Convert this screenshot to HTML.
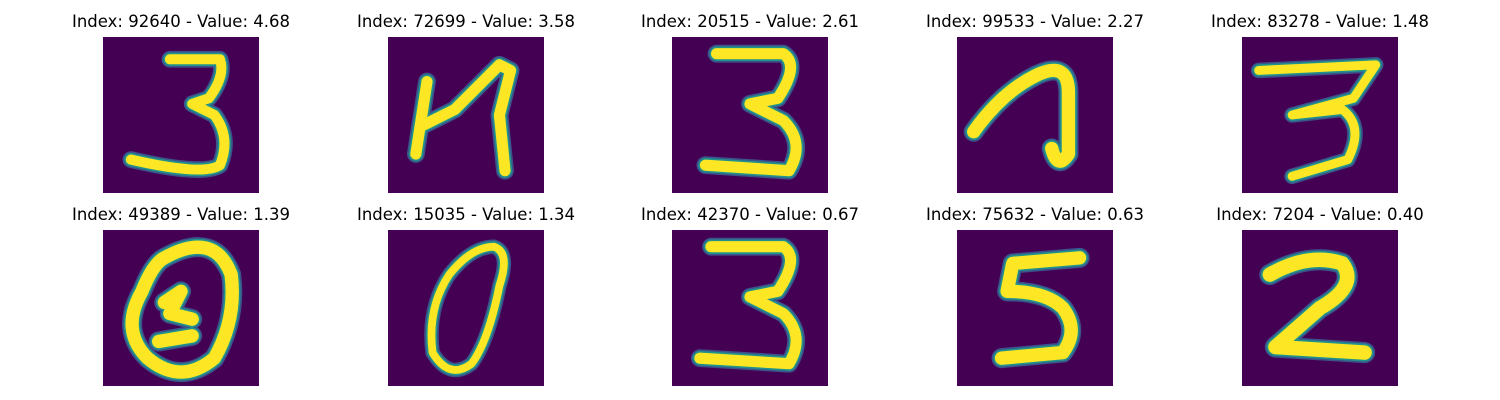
<!DOCTYPE html>
<html><head><meta charset="utf-8">
<style>
body{margin:0;background:#fff;width:1500px;height:400px;overflow:hidden;font-family:"DejaVu Sans","Liberation Sans",sans-serif}
.t{position:absolute;font-size:16.5px;color:#000;text-align:center;width:300px;white-space:nowrap}
svg.im{position:absolute;width:156px;height:156px}
</style></head><body>
<div id="root"></div>
<script>
const indices=[92640,72699,20515,99533,83278,49389,15035,42370,75632,7204];
const values=[4.68,3.58,2.61,2.27,1.48,1.39,1.34,0.67,0.63,0.40];
const digitPaths=[
"M12,4 L21,4 Q22,7 19,11 L16,12 L20,14 Q23,18 21,23 Q18,25 5,22",
"M5,21 L7,8 M6,16 L12,13 L20,5 L22,6 L20,14 L21,24",
"M8,3 L20,3 Q23,5 19,11 L14,12 L20,15 Q24,19 21,24 L6,23",
"M3,17 Q8,10 14,7 Q20,4 20,10 L20,21 Q18,24 17,20",
"M3,6 L24,5 L20,11 L9,14 L18,13 Q22,16 19,22 L9,25",
"M11,5 Q20,0 23,8 Q24,16 20,23 Q14,28 8,23 Q3,18 7,11 Q9,6 11,5 M11,13 L14,11 L12,15 L16,16 M10,20 L16,19",
"M19,3 Q22,4 20,10 Q18,20 15,24 Q11,27 8,22 Q7,14 11,8 Q15,3 19,3",
"M7,3 L20,3 Q23,5 19,11 L14,12 L20,15 Q24,19 21,24 L5,23",
"M22,5 L10,6 L9,11 Q16,11 19,14 Q22,18 19,22 L8,23",
"M5,8 Q12,4 18,6 Q21,10 14,14 L6,21 L22,22"
];
const widths=[1.8,2.0,2.0,2.4,1.6,2.4,1.4,2.0,2.4,2.6];
const colX=[103,388,672,957,1242], rowY=[37,230];
const root=document.getElementById('root');
const ns='http://www.w3.org/2000/svg';
for(let i=0;i<indices.length;i++){
  const c=i%5,r=Math.floor(i/5);
  const t=document.createElement('div');
  t.className='t';
  
  
  t.style.left=(colX[c]+78-150)+'px';
  t.style.top=(rowY[r]-25)+'px';
  t.textContent='Index: '+indices[i]+' - Value: '+values[i].toFixed(2);
  root.appendChild(t);
  const s=document.createElementNS(ns,'svg');
  s.setAttribute('class','im');
  s.setAttribute('viewBox','0 0 28 28');
  
  
  s.style.left=colX[c]+'px';s.style.top=rowY[r]+'px';
  s.innerHTML='<rect width="28" height="28" fill="#440154"/>'+
   '<path d="'+digitPaths[i]+'" fill="none" stroke="#3b528b" stroke-width="'+(widths[i]+1.2)+'" stroke-linecap="round" stroke-linejoin="round"/>'+
   '<path d="'+digitPaths[i]+'" fill="none" stroke="#21918c" stroke-width="'+(widths[i]+0.6)+'" stroke-linecap="round" stroke-linejoin="round"/>'+
   '<path d="'+digitPaths[i]+'" fill="none" stroke="#fde725" stroke-width="'+widths[i]+'" stroke-linecap="round" stroke-linejoin="round"/>';
  root.appendChild(s);
}
</script>
</body></html>
